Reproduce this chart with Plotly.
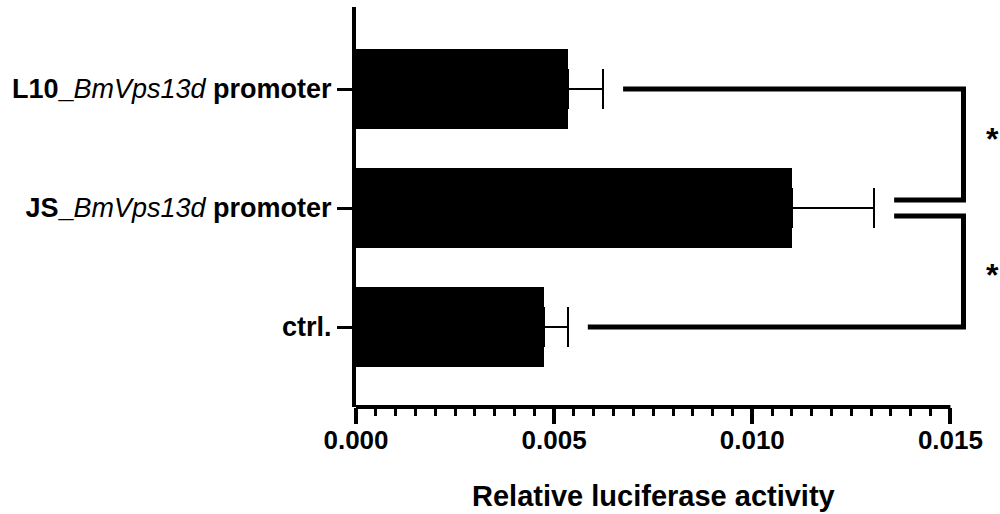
import plotly.graph_objects as go

# ---- data ----
categories = ["ctrl.", "JS_BmVps13d promoter", "L10_BmVps13d promoter"]
tick_labels = [
    "<b>ctrl.</b>",
    "<b>JS_</b><i>BmVps13d</i><b> promoter</b>",
    "<b>L10_</b><i>BmVps13d</i><b> promoter</b>",
]
means = [0.00475, 0.01101, 0.00535]
errors = [0.00060, 0.00207, 0.00089]
x_tick_vals = [0.0, 0.005, 0.010, 0.015]
x_tick_text = ["0.000", "0.005", "0.010", "0.015"]
minor_step = 0.0005
# (group index, reference group index, label)
comparisons = [(2, 1, "*"), (0, 1, "*")]
x_title = "Relative luciferase activity"

# ---- style constants ----
FONT = "Liberation Sans, Arial, Helvetica, sans-serif"
bracket_x = 0.01533     # right edge of significance brackets
bracket_gap = 0.0005    # gap between error cap and bracket start
bracket_off = 0.067     # vertical offset of bracket ends near reference bar
star_yshift = [6, -3]   # fine placement of the asterisks (px)

ypos = list(range(len(categories)))

fig = go.Figure()
fig.add_trace(go.Bar(
    y=ypos,
    x=means,
    orientation="h",
    width=0.672,
    marker=dict(color="black", line=dict(width=0)),
    error_x=dict(
        type="data",
        symmetric=False,
        array=errors,
        arrayminus=[0] * len(errors),
        color="black",
        thickness=2,
        width=20,
    ),
    hoverinfo="skip",
))

shapes = []
annotations = []
caps = [m + e for m, e in zip(means, errors)]
for k, (a, ref, lab) in enumerate(comparisons):
    sign = 1 if a > ref else -1
    y_end = ref + sign * bracket_off
    xa = caps[a] + bracket_gap
    xr = caps[ref] + bracket_gap
    shapes.append(dict(
        type="path", xref="x", yref="y",
        path=f"M {xa},{a} L {bracket_x},{a} L {bracket_x},{y_end} L {xr},{y_end}",
        line=dict(color="black", width=5),
        fillcolor="rgba(0,0,0,0)",
    ))
    annotations.append(dict(
        x=bracket_x, y=(a + y_end) / 2, xref="x", yref="y",
        text="<b>" + lab + "</b>", showarrow=False,
        xanchor="left", yanchor="middle", xshift=21, yshift=star_yshift[k],
        font=dict(family=FONT, size=32, color="black"),
    ))

# x axis line only spanning the tick range
shapes.append(dict(
    type="line", xref="x", yref="paper",
    x0=x_tick_vals[0], x1=x_tick_vals[-1], y0=0, y1=0,
    line=dict(color="black", width=4),
))

annotations.append(dict(
    x=(x_tick_vals[0] + x_tick_vals[-1]) / 2, y=-0.2225, xref="x", yref="paper",
    text="<b>" + x_title + "</b>", showarrow=False,
    xanchor="center", yanchor="middle",
    font=dict(family=FONT, size=29, color="black"),
))

n_minor = int(round((x_tick_vals[-1] - x_tick_vals[0]) / minor_step))
minor_vals = [x_tick_vals[0] + i * minor_step for i in range(n_minor + 1)]

fig.update_layout(
    width=1000, height=514,
    margin=dict(l=356, r=6, t=7, b=107),
    plot_bgcolor="white", paper_bgcolor="white",
    showlegend=False,
    bargap=0,
    font=dict(family=FONT, color="black"),
    shapes=shapes,
    annotations=annotations,
    xaxis=dict(
        range=[0, 0.0161],
        showgrid=False, zeroline=False, showline=False,
        tickmode="array", tickvals=x_tick_vals, ticktext=x_tick_text,
        ticks="outside", ticklen=16, tickwidth=4, tickcolor="black",
        ticklabelstandoff=-6,
        tickfont=dict(family=FONT, size=26, color="black", weight="bold"),
        minor=dict(tickmode="array", tickvals=minor_vals, ticks="outside",
                   ticklen=8, tickwidth=3, tickcolor="black", showgrid=False),
        automargin=False, fixedrange=True,
    ),
    yaxis=dict(
        range=[-0.672, 2.689],
        showgrid=False, zeroline=False,
        showline=True, linewidth=4, linecolor="black",
        tickmode="array", tickvals=ypos, ticktext=tick_labels,
        ticks="outside", ticklen=15, tickwidth=3, tickcolor="black",
        tickfont=dict(family=FONT, size=27, color="black"),
        automargin=False, fixedrange=True,
    ),
)

fig.write_html(
    "out.html",
    config={"displayModeBar": False},
    post_script="document.body.style.margin='0';document.body.style.overflow='hidden';",
)
